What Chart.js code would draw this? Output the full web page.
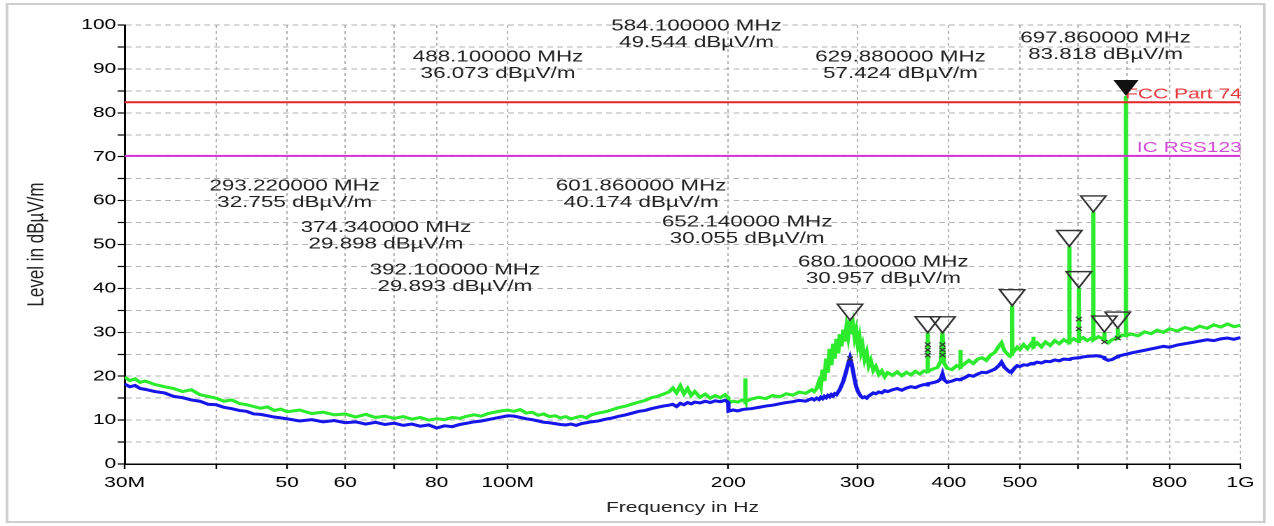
<!DOCTYPE html>
<html>
<head>
<meta charset="utf-8">
<title>Radiated emission scan 30 MHz - 1 GHz</title>
<script src="https://cdn.jsdelivr.net/npm/chart.js@4.4.0/dist/chart.umd.min.js"></script>
<style>
  html, body { margin: 0; padding: 0; background: #fff; overflow: hidden; }
  /* the source plot is a horizontally stretched screenshot, so the whole canvas is stretched too */
  #wrap { width: 910px; height: 526px; transform: scaleX(1.4); transform-origin: 0 0; }
</style>
</head>
<body>
<div id="wrap"><canvas id="scanChart"></canvas></div>
<script>
// Frequency points (MHz)
const freqMHz = [
  30, 30.5, 31, 31.5, 32, 33, 34, 35, 36, 37, 38, 39, 40, 41, 42, 43, 44, 45, 46, 47, 48, 49, 50,
  52, 54, 56, 58, 60, 62, 64, 66, 68, 70, 72, 74, 76, 78, 80, 82, 84, 86, 88, 90, 92, 94, 96, 98, 100,
  102, 104, 106, 108, 110, 112, 114, 116, 118, 120, 122, 124, 126, 128, 130,
  133, 136, 139, 142, 145, 148, 151, 154, 157, 160, 163, 166, 168, 170, 172, 174, 176, 178, 180, 183, 186, 189, 192, 195, 198, 199.9,
  200.1, 203, 206, 209, 210.9, 211, 211.1, 215, 220, 225, 230, 235, 240, 245, 250, 255, 260, 262,
  264, 266, 267.5, 269, 270.5, 272, 273.5, 275, 276.5, 278, 279.5, 281, 282.5, 284, 285.5, 287, 288.5, 290, 291.5, 293.22,
  294.5, 296, 297.5, 299, 300.5, 302, 303.5, 305, 307, 309, 311, 313, 315.5, 318, 321, 324, 327, 330,
  335, 340, 345, 350, 355, 360, 365, 370, 374.2, 374.34, 374.5, 380, 386, 390, 392.1, 394, 398,
  404, 410, 414.9, 415, 415.1, 420, 426, 432, 438, 444, 450, 456, 462, 468, 472, 476, 480, 484, 487.9, 488.1, 488.3, 492, 496,
  500, 506, 512, 518, 521.9, 522, 522.1, 528, 535, 542, 550, 558, 566, 574, 583.9, 584.1, 584.3, 592, 601.7, 601.86,
  602, 610, 618, 629.7, 629.88, 630.1, 640, 652, 652.14, 652.3, 660, 668, 675, 680, 680.1, 680.2, 690, 697.7, 697.86, 698,
  710, 725, 740, 755, 770, 785, 800, 820, 840, 860, 880, 900, 920, 940, 960, 980, 1000
];

// Peak detector trace (green), dBµV/m
const peakLevel = [
  19.8, 19.0, 19.4, 18.6, 18.9, 18.1, 17.6, 17.2, 16.5, 16.9, 15.8, 15.4, 15.0, 14.3, 14.6, 13.8, 13.5, 13.1, 12.7, 13.0, 12.2, 12.5, 11.9,
  12.3, 11.5, 11.8, 11.2, 11.4, 10.7, 11.3, 10.6, 10.9, 10.4, 10.8, 10.2, 10.6, 10.0, 10.3, 10.1, 10.6, 10.4, 10.9, 11.2, 10.9, 11.5, 11.8, 12.1, 12.3,
  12.0, 12.4, 11.6, 11.8, 11.1, 11.4, 10.8, 11.0, 10.5, 10.8, 10.3, 10.6, 10.9, 10.5, 11.2,
  11.6, 11.9, 12.4, 12.9, 13.2, 13.7, 14.1, 14.5, 15.1, 15.4, 15.9, 16.4, 17.3, 16.2, 17.8, 16.0, 17.2, 15.6, 16.5, 15.2, 15.9, 15.0, 15.6, 15.1, 15.8, 15.2,
  13.9, 14.3, 14.1, 14.6, 14.3, 19.5, 14.2, 14.8, 15.2, 14.9, 15.6, 15.3, 16.0, 15.7, 16.4, 16.1, 16.9, 16.5,
  17.2, 18.8, 17.6, 21.5, 18.9, 24.0, 20.8, 26.2, 22.5, 27.4, 24.0, 28.5, 25.2, 29.6, 26.8, 30.6, 27.9, 31.2, 29.0, 32.76,
  29.6, 31.7, 28.8, 30.4, 27.2, 28.9, 25.6, 27.0, 23.8, 25.4, 22.4, 23.6, 21.3, 22.2, 20.4, 21.2, 19.9, 20.8,
  20.2, 21.0, 20.1, 20.9, 20.3, 21.1, 20.5, 21.2, 21.0, 29.9, 21.1, 21.6, 22.0, 23.5, 29.89, 23.0, 21.8,
  21.5, 22.4, 22.0, 26.0, 22.1, 22.8, 23.6, 22.9, 23.9, 24.2, 23.6, 24.8, 25.4, 26.8, 27.6, 25.9, 25.2, 24.6, 25.0, 36.07, 25.2, 25.9, 26.6,
  26.1, 27.2, 26.3, 27.4, 26.6, 29.0, 26.8, 27.6, 26.7, 27.8, 27.0, 28.1, 27.4, 28.3, 27.6, 49.54, 27.8, 28.5, 27.9, 40.17,
  28.2, 28.8, 28.1, 28.9, 57.42, 28.3, 29.0, 28.4, 30.06, 28.2, 27.6, 28.3, 28.6, 28.6, 30.96, 28.7, 29.4, 29.2, 83.82, 29.3,
  29.6, 29.2, 30.1, 29.7, 30.5, 30.0, 30.8, 30.3, 31.1, 30.6, 31.4, 30.9, 31.7, 31.2, 31.9, 31.3, 31.6
];

// Average detector trace (blue), dBµV/m
const avgLevel = [
  18.2, 17.6, 17.9, 17.2, 17.0, 16.5, 16.2, 15.4, 15.1, 14.6, 14.3, 13.6, 13.5, 12.9, 12.6, 12.2, 12.0, 11.4, 11.3, 11.0, 10.7, 10.5, 10.3,
  9.8, 10.1, 9.6, 9.9, 9.4, 9.6, 9.1, 9.5, 9.0, 9.3, 8.8, 9.1, 8.6, 8.9, 8.2, 8.7, 8.5, 9.0, 9.3, 9.6, 9.8, 10.1, 10.4, 10.7, 11.0,
  10.9, 10.6, 10.3, 10.1, 9.8, 9.5, 9.4, 9.2, 9.0, 8.9, 9.1, 8.8, 9.2, 9.4, 9.6,
  9.8, 10.2, 10.5, 10.9, 11.2, 11.6, 12.0, 12.2, 12.6, 12.9, 13.2, 13.4, 13.6, 13.1, 13.8, 13.5, 14.0, 13.7, 14.1, 13.9, 14.3, 14.0, 14.4, 14.2, 14.5, 14.1,
  12.0, 12.3, 12.1, 12.4, 12.5, 12.6, 12.5, 12.6, 12.9, 13.2, 13.4, 13.7, 14.0, 14.2, 14.5, 14.3, 14.9, 14.6,
  15.0, 14.7, 15.2, 14.9, 15.4, 15.1, 15.6, 15.3, 15.8, 15.5, 16.0, 15.8, 16.4, 17.0, 17.9, 18.8, 20.0, 21.4, 22.8, 24.2,
  23.0, 21.2, 19.2, 17.6, 16.6, 15.9, 15.4, 15.1, 15.3, 15.0, 15.5, 15.8, 16.2, 16.0, 16.4, 16.2, 16.7, 16.5,
  16.9, 17.2, 16.8, 17.3, 17.6, 17.4, 17.8, 18.1, 18.0, 18.2, 18.3, 18.5, 18.8, 19.4, 20.5, 19.2, 18.6,
  18.9, 19.3, 19.2, 19.4, 19.3, 19.6, 20.2, 20.0, 20.5, 20.9, 20.8, 21.2, 21.6, 22.4, 23.2, 22.1, 21.5, 21.0, 21.3, 21.4, 21.2, 21.9, 22.4,
  22.2, 22.6, 22.5, 22.9, 22.8, 23.0, 22.9, 23.2, 23.0, 23.4, 23.3, 23.7, 23.5, 23.9, 23.8, 24.0, 23.9, 24.1, 24.2, 24.3,
  24.2, 24.4, 24.5, 24.6, 24.8, 24.7, 24.6, 24.3, 24.2, 24.0, 23.6, 23.8, 24.2, 24.4, 24.5, 24.5, 24.8, 25.0, 25.1, 25.0,
  25.3, 25.6, 25.9, 26.2, 26.5, 26.8, 26.6, 27.1, 27.4, 27.7, 28.0, 28.3, 28.1, 28.5, 28.7, 28.4, 28.8
];

// Limit lines
const limitFreq = [30, 1000];
const fccLimit = [82.4, 82.4];
const icLimit = [70.2, 70.2];

// Peak markers
const markerFreq = [293.22, 374.34, 392.1, 488.1, 584.1, 601.86, 629.88, 652.14, 680.1, 697.86];
const markerLevel = [32.755, 29.898, 29.893, 36.073, 49.544, 40.174, 57.424, 30.055, 30.957, 83.818];
// where each marker readout sits (MHz, dB of first line)
const readoutFreq = [51.2, 68.2, 84.7, 97.0, 181, 152.1, 343.6, 212.2, 325.6, 654.6];
const readoutLevel = [63.3, 53.8, 44.2, 92.7, 99.8, 63.3, 92.7, 55.1, 46.0, 97.0];

// Final measurement crosses under some markers
const crossFreq = [293.22, 374.34, 374.34, 374.34, 392.1, 392.1, 392.1, 601.86, 601.86, 652.14, 680.1];
const crossLevel = [24.0, 27.2, 26.0, 24.8, 27.2, 26.0, 24.8, 33.0, 30.8, 27.8, 28.7];

// Axis ticks
const xTickValues = [30, 40, 50, 60, 70, 80, 100, 200, 300, 400, 500, 600, 700, 800, 1000];
const xTickLabels = ['30M', '', '50', '60', '', '80', '100M', '200', '300', '400', '500', '', '', '800', '1G'];

const FONT = '"Liberation Sans", Arial, sans-serif';
Chart.defaults.font.family = FONT;

function pts(xs, ys) {
  return xs.map((f, i) => ({ x: f, y: ys[i] }));
}

// frame, limit names, marker triangles and readouts
const scanDecor = {
  id: 'scanDecor',
  beforeDraw(chart) {
    const ctx = chart.ctx;
    ctx.save();
    ctx.fillStyle = '#fff';
    ctx.fillRect(0, 0, chart.width, chart.height);
    ctx.strokeStyle = '#cfcfcf';
    ctx.lineWidth = 2;
    ctx.strokeRect(5, 4, 898, 518);
    ctx.restore();
  },
  afterDatasetsDraw(chart) {
    const { ctx, chartArea } = chart;
    const x = chart.scales.x;
    const y = chart.scales.y;
    ctx.save();

    ctx.font = '15px ' + FONT;
    ctx.textAlign = 'right';
    ctx.textBaseline = 'alphabetic';
    ctx.fillStyle = '#e8393f';
    ctx.fillText('FCC Part 74', chartArea.right + 1, y.getPixelForValue(fccLimit[0]) - 4);
    ctx.fillStyle = '#d24bd8';
    ctx.fillText('IC RSS123', chartArea.right + 1, y.getPixelForValue(icLimit[0]) - 4);

    markerFreq.forEach((f, i) => {
      const px = x.getPixelForValue(f);
      const py = y.getPixelForValue(markerLevel[i]);
      ctx.beginPath();
      ctx.moveTo(px, py);
      ctx.lineTo(px - 9, py - 16);
      ctx.lineTo(px + 9, py - 16);
      ctx.closePath();
      if (i === markerFreq.length - 1) {
        ctx.fillStyle = '#111';
        ctx.fill();
      } else {
        ctx.strokeStyle = '#333';
        ctx.lineWidth = 1.4;
        ctx.stroke();
      }
    });

    ctx.font = '16px ' + FONT;
    ctx.textAlign = 'center';
    ctx.textBaseline = 'middle';
    ctx.fillStyle = '#222';
    markerFreq.forEach((f, i) => {
      const px = x.getPixelForValue(readoutFreq[i]);
      const py = y.getPixelForValue(readoutLevel[i]);
      ctx.fillText(f.toFixed(6) + ' MHz', px, py);
      ctx.fillText(markerLevel[i].toFixed(3) + ' dBµV/m', px, py + 16.5);
    });
    ctx.restore();
  }
};

new Chart(document.getElementById('scanChart'), {
  type: 'line',
  data: {
    datasets: [
      {
        label: 'Average',
        data: pts(freqMHz, avgLevel),
        borderColor: 'rgb(22, 22, 235)',
        borderWidth: 3,
        pointRadius: 0,
        order: 2
      },
      {
        label: 'Peak',
        data: pts(freqMHz, peakLevel),
        borderColor: 'rgb(44, 234, 44)',
        borderWidth: 3,
        pointRadius: 0,
        order: 3
      },
      {
        label: 'FCC Part 74',
        data: pts(limitFreq, fccLimit),
        borderColor: 'rgb(232, 36, 40)',
        borderWidth: 2,
        pointRadius: 0,
        order: 1
      },
      {
        label: 'IC RSS123',
        data: pts(limitFreq, icLimit),
        borderColor: 'rgb(212, 52, 214)',
        borderWidth: 2,
        pointRadius: 0,
        order: 1
      },
      {
        type: 'scatter',
        label: 'Final',
        data: pts(crossFreq, crossLevel),
        pointStyle: 'crossRot',
        pointRadius: 3,
        borderColor: '#333',
        borderWidth: 1,
        order: 0
      }
    ]
  },
  options: {
    responsive: true,
    maintainAspectRatio: false,
    devicePixelRatio: 2,
    animation: false,
    layout: { padding: { left: 0, right: 24, top: 25, bottom: 0 } },
    plugins: {
      legend: { display: false },
      tooltip: { enabled: false }
    },
    scales: {
      x: {
        type: 'logarithmic',
        min: 30,
        max: 1000,
        afterBuildTicks: (axis) => {
          axis.ticks = xTickValues.map(v => ({ value: v }));
        },
        afterFit: (axis) => { axis.height = 62; },
        ticks: {
          autoSkip: false,
          maxRotation: 0,
          padding: 5,
          color: '#000',
          font: { size: 15 },
          callback: (value) => {
            const i = xTickValues.indexOf(value);
            return i >= 0 ? xTickLabels[i] : '';
          }
        },
        grid: {
          color: '#b2b2b2',
          lineWidth: 1,
          tickLength: 5,
          tickColor: '#000',
          tickWidth: 1.2,
          tickBorderDash: []
        },
        border: { display: true, color: '#000', width: 1.5, dash: [3, 3] },
        title: {
          display: true,
          text: 'Frequency in Hz',
          color: '#222',
          font: { size: 15 },
          padding: { top: 0, bottom: 9 }
        }
      },
      y: {
        type: 'linear',
        min: 0,
        max: 100,
        afterFit: (axis) => { axis.width = 89; },
        ticks: {
          stepSize: 5,
          padding: 1,
          color: '#000',
          font: { size: 15 },
          callback: (value) => (value % 10 === 0 ? value : '')
        },
        grid: {
          color: '#b2b2b2',
          lineWidth: 1,
          tickLength: 5,
          tickColor: '#000',
          tickWidth: 1.2,
          tickBorderDash: []
        },
        border: { display: true, color: '#000', width: 1.5, dash: [4, 3] },
        title: {
          display: true,
          text: 'Level in dBµV/m',
          color: '#222',
          font: { size: 17 },
          padding: { top: 16, bottom: 0 }
        }
      }
    }
  },
  plugins: [scanDecor]
});
</script>
</body>
</html>
